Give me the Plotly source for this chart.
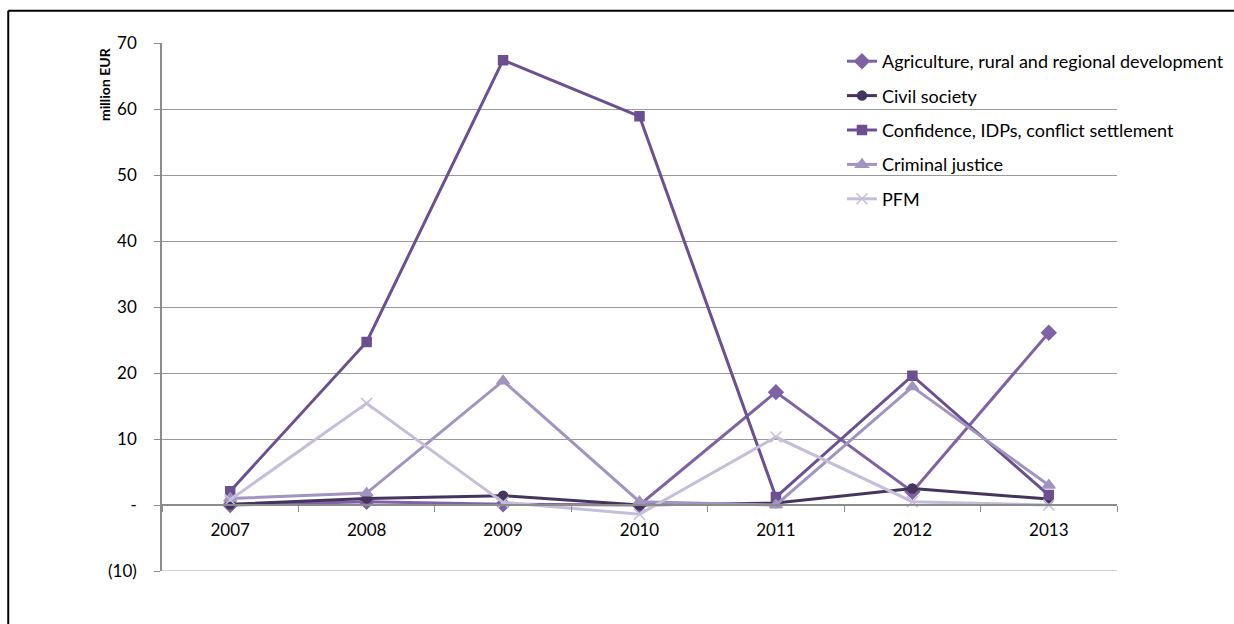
import plotly.graph_objects as go

# Annual disbursements by sector, million EUR
years = ["2007", "2008", "2009", "2010", "2011", "2012", "2013"]

agriculture = [0.0, 0.5, 0.1, 0.0, 17.1, 2.0, 26.1]
civil_society = [0.1, 1.0, 1.4, 0.0, 0.3, 2.5, 0.9]
confidence = [2.1, 24.7, 67.4, 58.9, 1.2, 19.6, 1.5]
criminal_justice = [1.0, 1.8, 18.8, 0.5, 0.0, 17.9, 3.0]
pfm = [0.8, 15.4, 0.4, -1.4, 10.3, 0.5, 0.0]

y_tick_vals = [70, 60, 50, 40, 30, 20, 10, 0, -10]
y_tick_text = ["70", "60", "50", "40", "30", "20", "10", "-", "(10)"]

series = [
    ("Agriculture, rural and regional development", agriculture, "#7F62A3", "diamond", 11),
    ("Civil society", civil_society, "#45355C", "circle", 9),
    ("Confidence, IDPs, conflict settlement", confidence, "#6A5090", "square", 9),
    ("Criminal justice", criminal_justice, "#A294C1", "triangle-up", 11),
    ("PFM", pfm, "#C6BED9", "x-thin-open", 11),
]

fig = go.Figure()
for name, values, color, symbol, size in series:
    fig.add_trace(go.Scatter(
        x=years, y=values, name=name, mode="lines+markers",
        legendgroup=name,
        line=dict(color=color, width=3),
        marker=dict(symbol=symbol, size=size, color=color,
                    line=dict(color=color, width=1.5)),
    ))

font_family = "Lato, 'Open Sans', sans-serif"

fig.update_layout(
    width=1234, height=624,
    margin=dict(l=162, r=117, t=43, b=53, autoexpand=False),
    paper_bgcolor="white", plot_bgcolor="white",
    font=dict(family=font_family, size=17, color="#000000"),
    showlegend=True,
    legend=dict(
        x=0.712, y=1.0, xanchor="left", yanchor="top",
        bgcolor="rgba(0,0,0,0)", borderwidth=0,
        font=dict(family=font_family, size=18, color="#000000"),
        tracegroupgap=8,
    ),
    xaxis=dict(
        type="category", tickson="boundaries",
        anchor="free", position=0.125,
        showline=True, linecolor="#8c8c8c", linewidth=1.5,
        ticks="outside", ticklen=6, tickcolor="#8c8c8c",
        ticklabelstandoff=10,
        showgrid=False, zeroline=False,
        tickfont=dict(family=font_family, size=17),
        range=[-0.5, 6.5],
    ),
    yaxis=dict(
        range=[-10, 70],
        tickvals=y_tick_vals, ticktext=y_tick_text,
        showline=True, linecolor="#8c8c8c", linewidth=1.5,
        ticks="outside", ticklen=6, tickcolor="#8c8c8c",
        ticklabelstandoff=14,
        showgrid=True, gridcolor="#9a9a9a", gridwidth=1,
        zeroline=False,
        tickfont=dict(family=font_family, size=17),
    ),
    shapes=[
        # outer frame edges
        dict(type="line", xref="paper", yref="paper",
             x0=-0.161, x1=1.3, y0=1.061, y1=1.061,
             line=dict(color="black", width=2)),
        dict(type="line", xref="paper", yref="paper",
             x0=-0.161, x1=-0.161, y0=1.061, y1=-0.2,
             line=dict(color="black", width=2)),
        # lighter bottom gridline
        dict(type="line", xref="paper", yref="y",
             x0=0, x1=1, y0=-10, y1=-10,
             line=dict(color="#c0c0c0", width=1.5)),
    ],
    annotations=[
        dict(text="<b>million EUR</b>", textangle=-90,
             xref="paper", yref="paper", x=-0.061, y=0.922,
             xanchor="center", yanchor="middle", showarrow=False,
             font=dict(family=font_family, size=14, color="#000000")),
    ],
)

fig.write_html("out.html")
